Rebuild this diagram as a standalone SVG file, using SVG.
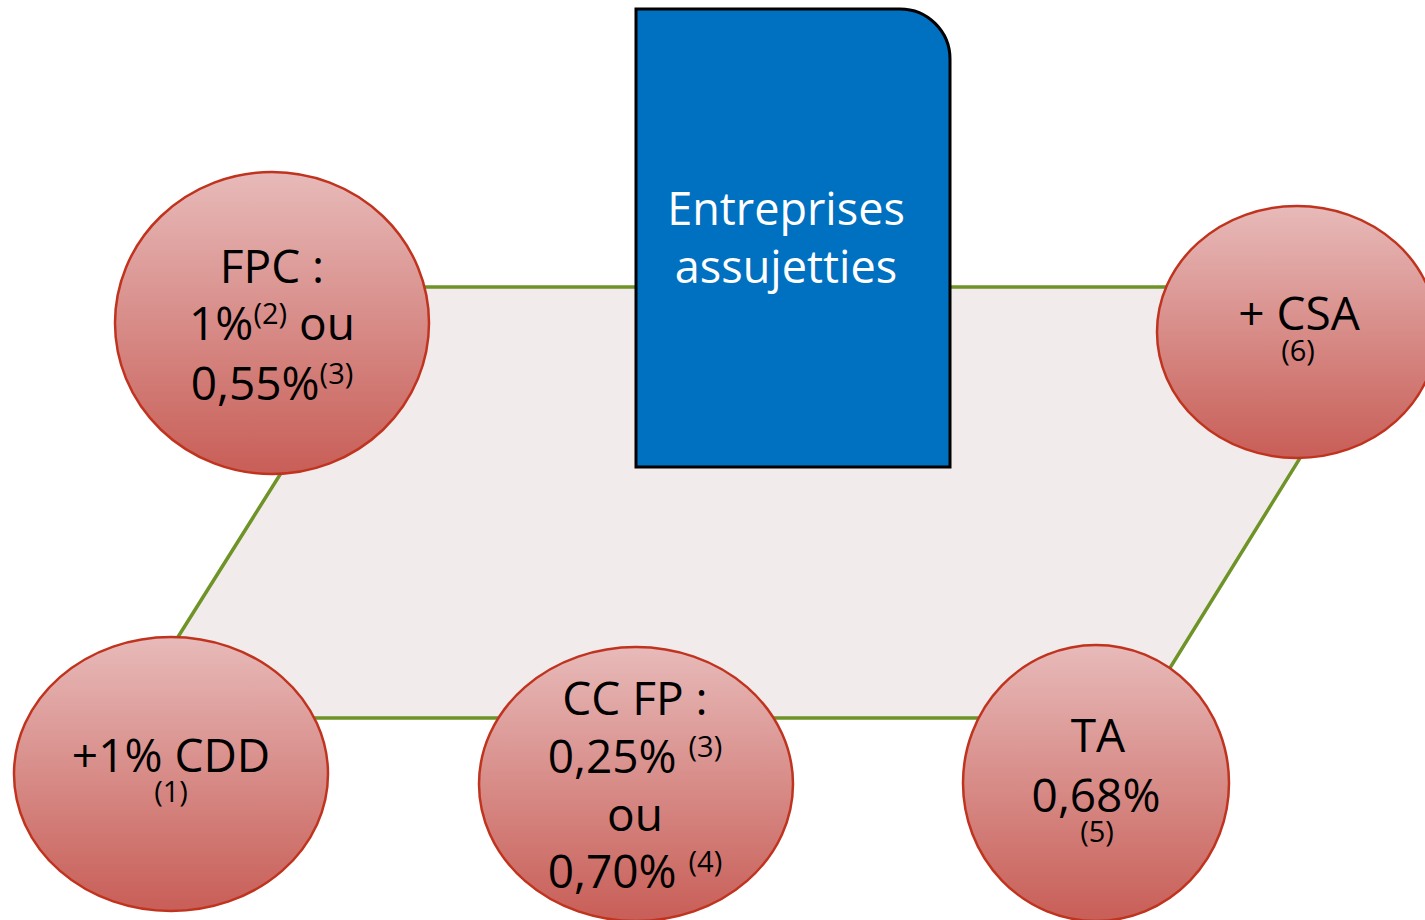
<svg xmlns="http://www.w3.org/2000/svg" width="1425" height="920" viewBox="0 0 1425 920">
<defs>
<linearGradient id="rg" x1="0" y1="0" x2="0" y2="1">
<stop offset="0" stop-color="#E7BAB9"/>
<stop offset="1" stop-color="#C85E57"/>
</linearGradient>
<style>
.c{fill:url(#rg);stroke:#C0341F;stroke-width:2.5}
.t{font-family:"Open Sans","Noto Sans","DejaVu Sans",sans-serif;font-size:46px;fill:#000;text-anchor:middle}
.s{font-size:29px}
.w{font-family:"Open Sans","Noto Sans","DejaVu Sans",sans-serif;font-size:45px;fill:#fff;text-anchor:middle}
</style>
</defs>
<rect width="1425" height="920" fill="#fff"/>
<g id="connectors">
<polygon points="398,287 1406,287 1139,718 127,718" fill="#F2EBEC" stroke="#6E9326" stroke-width="3.5"/>
</g>
<g id="box">
<path d="M636,9 H900 A50,50 0 0 1 950,59 V467 H636 Z" fill="#0070C0" stroke="#000" stroke-width="3"/>
<text class="w" x="786" y="225">Entreprises</text>
<text class="w" x="786" y="283">assujetties</text>
</g>
<g id="fpc">
<ellipse class="c" cx="272" cy="323" rx="157" ry="151"/>
<text class="t" x="272" y="283">FPC :</text>
<text class="t" x="272" y="340">1%<tspan class="s" dy="-16">(2)</tspan><tspan dy="16"> ou</tspan></text>
<text class="t" x="272" y="400">0,55%<tspan class="s" dy="-16">(3)</tspan></text>
</g>
<g id="csa">
<ellipse class="c" cx="1297" cy="332" rx="140" ry="126"/>
<text class="t" x="1299" y="330">+ CSA</text>
<text class="t s" x="1298" y="361">(6)</text>
</g>
<g id="cdd">
<ellipse class="c" cx="171" cy="774" rx="157" ry="137"/>
<text class="t" x="171" y="772">+1% CDD</text>
<text class="t s" x="171" y="802">(1)</text>
</g>
<g id="ccfp">
<ellipse class="c" cx="636" cy="784" rx="157" ry="137"/>
<text class="t" x="635" y="715">CC FP :</text>
<text class="t" x="635" y="773">0,25% <tspan class="s" dy="-16">(3)</tspan></text>
<text class="t" x="635" y="831">ou</text>
<text class="t" x="635" y="888">0,70% <tspan class="s" dy="-16">(4)</tspan></text>
</g>
<g id="ta">
<ellipse class="c" cx="1096" cy="783" rx="133" ry="138"/>
<text class="t" x="1098" y="752">TA</text>
<text class="t" x="1096" y="812">0,68%</text>
<text class="t s" x="1097" y="842">(5)</text>
</g>
</svg>
